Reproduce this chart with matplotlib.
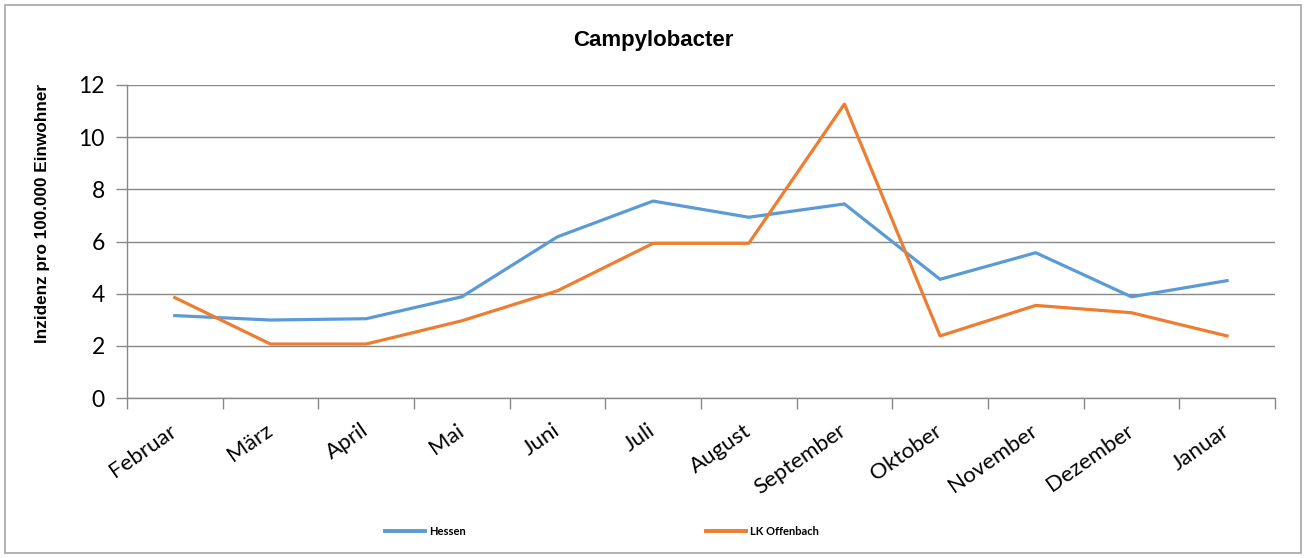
import matplotlib
matplotlib.use("Agg")
import matplotlib.pyplot as plt
from matplotlib.lines import Line2D
from matplotlib.patches import Rectangle

months = ["Februar", "März", "April", "Mai", "Juni", "Juli", "August",
          "September", "Oktober", "November", "Dezember", "Januar"]
hessen = [3.16, 2.99, 3.04, 3.88, 6.18, 7.55, 6.93, 7.44, 4.55, 5.57, 3.88, 4.50]
offenbach = [3.85, 2.07, 2.07, 2.96, 4.11, 5.93, 5.93, 11.27, 2.38, 3.55, 3.27, 2.38]
yticks = [0, 2, 4, 6, 8, 10, 12]

BLUE, ORANGE, GRID = "#5B9BD5", "#ED7D31", "#888888"

fig = plt.figure(figsize=(13.06, 5.58), dpi=100)
fig.patches.append(Rectangle((0.004, 0.009), 0.992, 0.982, transform=fig.transFigure,
                             fill=False, edgecolor="#a6a6a6", lw=1.2))
ax = fig.add_axes([0.0972, 0.2867, 0.8790, 0.5610])

x = range(len(months))
ax.plot(x, hessen, color=BLUE, lw=2.3, solid_joinstyle="round", zorder=3)
ax.plot(x, offenbach, color=ORANGE, lw=2.3, solid_joinstyle="round", zorder=3)

ax.set_xlim(-0.5, len(months) - 0.5)
ax.set_ylim(0, 12)
ax.set_yticks(yticks)
ax.yaxis.grid(True, color=GRID, lw=1.0)
ax.set_axisbelow(True)
for s in ("top", "right"):
    ax.spines[s].set_visible(False)
for s in ("left", "bottom"):
    ax.spines[s].set_color(GRID)
    ax.spines[s].set_linewidth(1.0)

ax.set_xticks(list(x))
ax.set_xticks([i - 0.5 for i in range(len(months) + 1)], minor=True)
ax.tick_params(axis="x", which="major", length=0, pad=22)
ax.tick_params(axis="x", which="minor", length=8, color=GRID, width=1.0)
ax.tick_params(axis="y", length=8, color=GRID, width=1.0, pad=8)
ax.set_xticklabels(months, rotation=35, ha="right", va="center",
                   rotation_mode="anchor", family="Lato", fontsize=16)
for lab in ax.get_yticklabels():
    lab.set_family("Lato")
    lab.set_fontsize(16.5)

ax.set_ylabel("Inzidenz pro 100.000 Einwohner", family="Liberation Sans",
              fontweight="bold", fontsize=12.3)
ax.yaxis.set_label_coords(-0.067, 0.588)
fig.text(0.5, 0.927, "Campylobacter", ha="center", va="center",
         family="Liberation Sans", fontweight="bold", fontsize=16)

handles = [Line2D([], [], color=BLUE, lw=2.8), Line2D([], [], color=ORANGE, lw=2.8)]
fig.legend(handles, ["Hessen", "LK Offenbach"], loc="center", bbox_to_anchor=(0.461, 0.047),
           ncol=2, frameon=False, handlelength=3.6, columnspacing=21.6,
           handletextpad=0.35, prop={"family": "Lato", "weight": "bold", "size": 8})

fig.savefig("out.png", dpi=100)
